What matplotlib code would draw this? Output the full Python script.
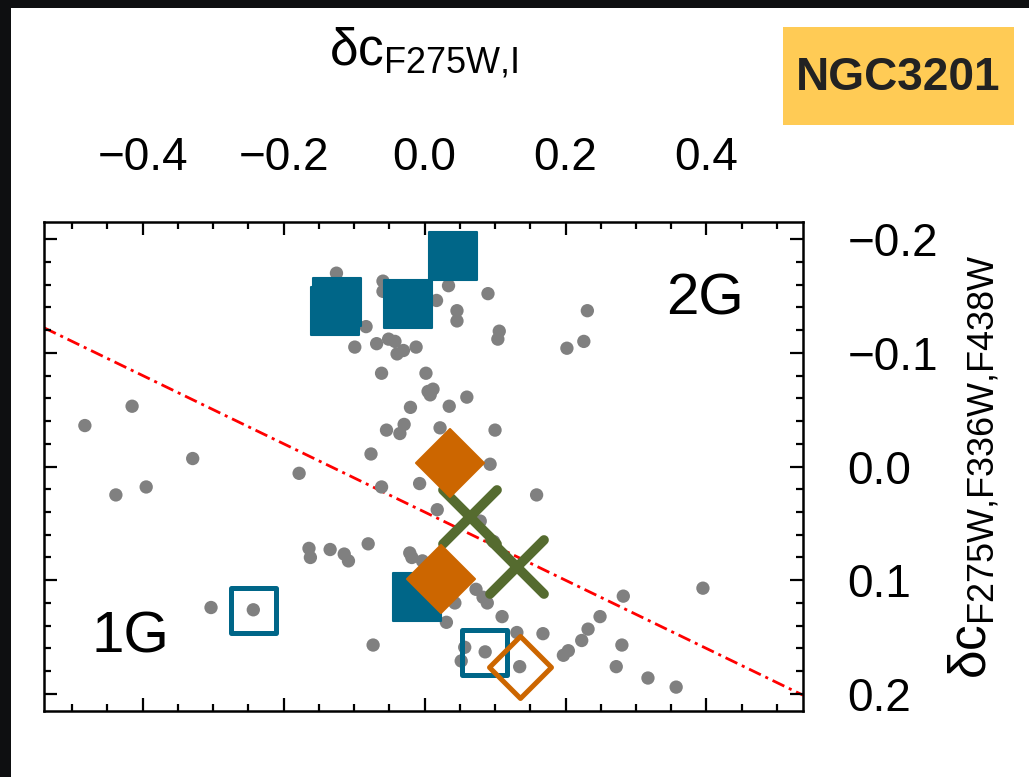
import numpy as np
import matplotlib
matplotlib.use("Agg")
import matplotlib.pyplot as plt
from matplotlib.markers import MarkerStyle
from matplotlib.patches import Rectangle
from matplotlib.ticker import MultipleLocator

plt.rcParams['font.family'] = ['Liberation Sans', 'DejaVu Sans']
plt.rcParams['mathtext.fontset'] = 'custom'
plt.rcParams['mathtext.rm'] = 'Liberation Sans'
plt.rcParams['mathtext.it'] = 'Liberation Sans'

# stars (grey dots)
star_x = [-0.125, -0.059, -0.059, 0.017, -0.083, -0.099, -0.068, -0.051, -0.042, -0.039,
          -0.030, -0.012, -0.061, 0.002, 0.005, 0.012, 0.008, -0.020, -0.029, -0.054,
          -0.035, 0.022, -0.415, -0.482, -0.329, -0.076, -0.178, 0.034, 0.090, 0.046,
          0.046, 0.106, 0.104, 0.231, 0.226, 0.202, 0.035, 0.060, 0.100, 0.093,
          -0.438, -0.395, -0.061, -0.007, 0.018, -0.164, -0.162, -0.134, -0.114, -0.108,
          -0.080, -0.021, -0.018, -0.003, -0.303, -0.243, -0.073, 0.159, 0.079, 0.098,
          0.073, 0.083, 0.089, 0.043, 0.031, 0.110, 0.131, 0.168, 0.057, 0.052,
          0.086, 0.135, 0.197, 0.204, 0.223, 0.232, 0.249, 0.282, 0.280, 0.272,
          0.317, 0.357, 0.395]
star_y = [-0.170, -0.163, -0.154, -0.146, -0.123, -0.105, -0.108, -0.112, -0.110, -0.099,
          -0.102, -0.105, -0.082, -0.082, -0.066, -0.068, -0.063, -0.052, -0.037, -0.032,
          -0.029, -0.034, -0.053, -0.036, -0.007, -0.011, 0.006, -0.159, -0.152, -0.137,
          -0.128, -0.119, -0.112, -0.137, -0.110, -0.104, -0.053, -0.061, -0.032, -0.002,
          0.025, 0.018, 0.018, 0.015, 0.038, 0.072, 0.080, 0.073, 0.077, 0.083,
          0.068, 0.076, 0.080, 0.083, 0.124, 0.126, 0.157, 0.025, 0.048, 0.066,
          0.108, 0.115, 0.120, 0.120, 0.137, 0.132, 0.146, 0.147, 0.159, 0.171,
          0.163, 0.176, 0.166, 0.162, 0.153, 0.143, 0.132, 0.114, 0.157, 0.176,
          0.186, 0.194, 0.107]

# filled squares
sq_x = [-0.124, -0.127, -0.024, 0.041, -0.011]
sq_y = [-0.145, -0.137, -0.143, -0.185, 0.115]
# open squares
osq_x = [-0.243, 0.085]
osq_y = [0.126, 0.163]
# filled diamonds
dm_x = [0.036, 0.023]
dm_y = [-0.003, 0.099]
# open diamond
odm_x = [0.135]
odm_y = [0.176]
# crosses
cr_x = [0.065, 0.131]
cr_y = [0.044, 0.088]

# separation line  y = a + b*x
line_a = 0.04
line_b = 0.30

blue = '#006688'
orange = '#CC6600'
green = '#556B2F'

W, H = 1029, 777
fig = plt.figure(figsize=(10.29, 7.77), dpi=100)
fig.patch.set_facecolor('#0e0f11')
fig.add_artist(Rectangle((11/W, 0), 1 - 11/W, (H-8)/H, transform=fig.transFigure,
                         facecolor='white', edgecolor='none', zorder=0))

ax = fig.add_axes([44/W, 1-711/H, (803-44)/W, (711-222)/H])
ax.set_facecolor('white')
ax.set_xlim(-0.54, 0.537)
ax.set_ylim(0.215, -0.215)

lx = np.array([-0.54, 0.537])
ax.plot(lx, line_a + line_b*lx, color='red', lw=2, ls=(0, (4.7, 1.8, 1.1, 1.8)), zorder=1)

ax.scatter(star_x, star_y, s=92, color='#808080', edgecolors='none', zorder=2)

ax.plot(cr_x, cr_y, ls='none', marker=MarkerStyle('x', capstyle='round'), ms=39,
        mec=green, mew=7, zorder=3)
ax.plot(sq_x, sq_y, ls='none', marker=MarkerStyle('s', joinstyle='round'), ms=34.5,
        mfc=blue, mec=blue, mew=1.5, zorder=4)
ax.plot(osq_x, osq_y, ls='none', marker=MarkerStyle('s', joinstyle='round'), ms=32.4,
        mfc='none', mec=blue, mew=3.6, zorder=4)
ax.plot(dm_x, dm_y, ls='none', marker=MarkerStyle('D', joinstyle='round'), ms=34.5,
        mfc=orange, mec=orange, mew=1.5, zorder=5)
ax.plot(odm_x, odm_y, ls='none', marker=MarkerStyle('D', joinstyle='round'), ms=32,
        mfc='none', mec=orange, mew=3.6, zorder=5)

ax.text(0.398, -0.147, '2G', fontsize=42, ha='center', va='center')
ax.text(-0.418, 0.150, '1G', fontsize=42, ha='center', va='center')

ax.xaxis.set_major_locator(MultipleLocator(0.2))
ax.xaxis.set_minor_locator(MultipleLocator(0.05))
ax.yaxis.set_major_locator(MultipleLocator(0.1))
ax.yaxis.set_minor_locator(MultipleLocator(0.02))
ax.tick_params(which='both', direction='in', top=True, bottom=True, left=True, right=True,
               labeltop=True, labelbottom=False, labelleft=False, labelright=True,
               width=1.6, labelsize=33)
ax.tick_params(which='major', length=9.5, pad=30)
ax.tick_params(axis='y', which='major', pad=32)
ax.tick_params(which='minor', length=5)
for sp in ax.spines.values():
    sp.set_linewidth(1.8)

ax.xaxis.set_label_position('top')
ax.set_xlabel(r'δc$_{\mathrm{F275W{,}I}}$', fontsize=37, labelpad=51)
ax.yaxis.set_label_position('right')
ax.set_ylabel(r'δc$_{\mathrm{F275W{,}F336W{,}F438W}}$', fontsize=37, labelpad=6)

# badge
fig.add_artist(Rectangle((783/W, 1-125/H), (1014-783)/W, 98/H, transform=fig.transFigure,
                         facecolor='#FFCB55', edgecolor='none', zorder=1))
badge = fig.text(898.5/W, 1-90/H, 'NGC3201', fontsize=30, fontweight='bold', color='#222222',
                 fontstretch='condensed', ha='center', va='baseline', zorder=2)
r = fig.canvas.get_renderer()
bw = badge.get_window_extent(r).width
badge.set_fontsize(30 * 204 / bw)

fig.savefig('out.png', dpi=100, facecolor=fig.get_facecolor())
